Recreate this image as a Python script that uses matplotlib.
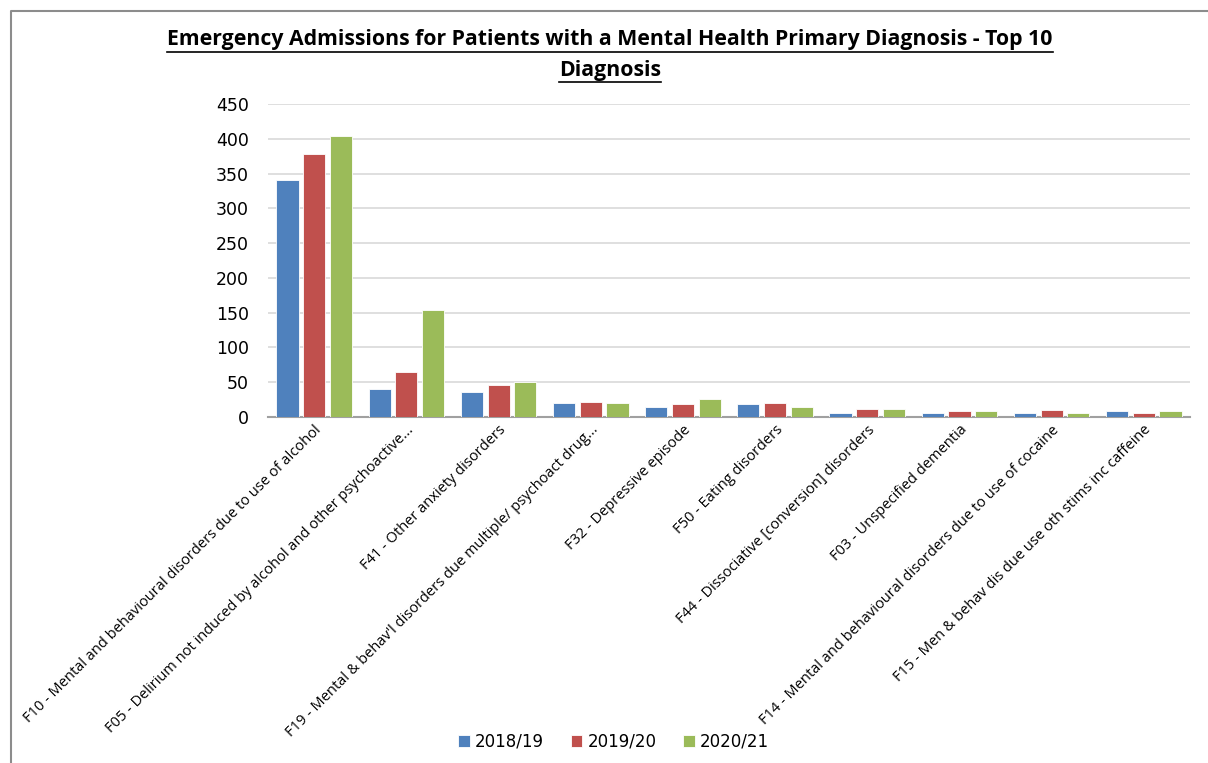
import numpy as np
import matplotlib.pyplot as plt
from matplotlib.lines import Line2D

categories = [
    "F10 - Mental and behavioural disorders due to use of alcohol",
    "F05 - Delirium not induced by alcohol and other psychoactive...",
    "F41 - Other anxiety disorders",
    "F19 - Mental & behav'l disorders due multiple/ psychoact drug...",
    "F32 - Depressive episode",
    "F50 - Eating disorders",
    "F44 - Dissociative [conversion] disorders",
    "F03 - Unspecified dementia",
    "F14 - Mental and behavioural disorders due to use of cocaine",
    "F15 - Men & behav dis due use oth stims inc caffeine",
]
years = ["2018/19", "2019/20", "2020/21"]
y2018 = [341, 40, 36, 20, 14, 18, 6, 6, 6, 8]
y2019 = [378, 65, 46, 22, 18, 20, 11, 8, 10, 6]
y2020 = [404, 154, 50, 20, 26, 14, 11, 8, 6, 8]
colors = ["#4F81BD", "#C0504D", "#9BBB59"]

fig = plt.figure(figsize=(12.08, 7.63), dpi=100)
ax = fig.add_axes([0.222, 0.4535, 0.763, 0.41])

x = np.arange(len(categories))
w = 0.24
step = 0.29
for i, (vals, lab) in enumerate(zip([y2018, y2019, y2020], years)):
    ax.bar(x + (i - 1) * step, vals, width=w, color=colors[i], label=lab,
           edgecolor="white", linewidth=0.6, zorder=3)

ax.set_xlim(-0.5, len(categories) - 0.5)
ax.set_ylim(0, 450)
ax.set_yticks(range(0, 451, 50))
ax.grid(axis="y", color="#d9d9d9", linewidth=1.2, zorder=0)
for s in ["top", "right", "left"]:
    ax.spines[s].set_visible(False)
ax.spines["bottom"].set_color("#a0a0a0")
ax.spines["bottom"].set_linewidth(1.5)
ax.tick_params(axis="y", length=0, labelsize=12.5, pad=14)
ax.tick_params(axis="x", length=0, pad=4)
ax.set_xticks(x)
ax.set_xticklabels(categories, rotation=45, ha="right", rotation_mode="anchor",
                   fontsize=10.5, family="Open Sans")

# title with underline
t1 = fig.text(0.505, 0.948, "Emergency Admissions for Patients with a Mental Health Primary Diagnosis - Top 10",
              ha="center", va="center", fontsize=15.3, fontweight="bold", family="Open Sans")
t2 = fig.text(0.505, 0.908, "Diagnosis", ha="center", va="center",
              fontsize=15.3, fontweight="bold", family="Open Sans")
fig.canvas.draw()
r = fig.canvas.get_renderer()
for t in (t1, t2):
    bb = t.get_window_extent(r).transformed(fig.transFigure.inverted())
    fig.add_artist(Line2D([bb.x0, bb.x1], [bb.y0 - 0.002, bb.y0 - 0.002],
                          color="black", linewidth=1.2, transform=fig.transFigure))

# chart border
fig.add_artist(Line2D([0.009, 0.009, 1.0], [0.0, 0.986, 0.986], color="#8c8c8c",
                      linewidth=1.5, transform=fig.transFigure))

fig.legend(loc="center", bbox_to_anchor=(0.508, 0.028), ncol=3, frameon=False,
           fontsize=12, handlelength=0.7, handleheight=0.7, handletextpad=0.3,
           columnspacing=1.6)

fig.savefig("out.png", dpi=100)
